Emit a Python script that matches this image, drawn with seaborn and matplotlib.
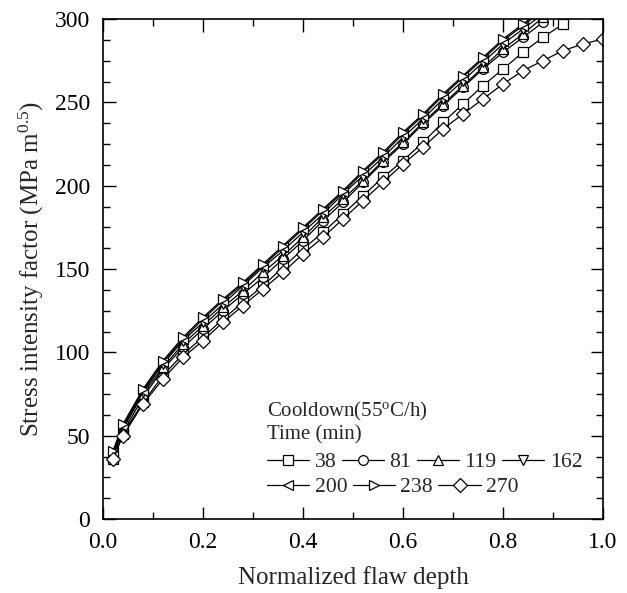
import numpy as np
import pandas as pd
import matplotlib
matplotlib.use("Agg")
import matplotlib.pyplot as plt
from matplotlib.ticker import MultipleLocator, AutoMinorLocator, FormatStrFormatter
import seaborn as sns

# ---- data ----
x_depth = [0.02, 0.04, 0.08, 0.12, 0.16, 0.20, 0.24, 0.28, 0.32, 0.36, 0.40,
           0.44, 0.48, 0.52, 0.56, 0.60, 0.64, 0.68, 0.72, 0.76, 0.80, 0.84,
           0.88, 0.92, 0.96, 1.00]
times = ["38", "81", "119", "162", "200", "238", "270"]
k38 = [36, 51, 70, 86, 99, 109, 120, 130, 140, 151, 162, 172, 183, 194, 205,
       215, 226, 238, 249, 260, 270, 280, 289, 297, 306]
k81 = [37, 52, 73, 90, 103, 114, 125, 135, 145, 156, 167, 179, 190, 202, 214,
       225, 237, 248, 259, 270, 280, 289, 298, 307]
k119 = [38, 54, 75, 91, 105, 116, 127, 137, 148, 158, 169, 181, 192, 203, 215,
        226, 238, 249, 260, 271, 282, 291, 301]
k162 = [39, 55, 76, 93, 107, 118, 129, 140, 151, 161, 172, 183, 195, 206, 217,
        229, 240, 252, 263, 274, 285, 294, 303]
k200 = [40, 56, 77, 94, 108, 120, 131, 141, 152, 163, 174, 185, 196, 208, 219,
        231, 242, 254, 265, 276, 287, 296, 305]
k238 = [41, 57, 78, 95, 109, 121, 132, 142, 153, 164, 175, 186, 197, 209, 220,
        232, 243, 255, 266, 277, 288, 297, 306]
k270 = [36, 50, 69, 84, 97, 107, 118, 128, 138, 148, 159, 169, 180, 191, 202,
        213, 223, 234, 243, 252, 261, 269, 275, 281, 285, 288]
series = [k38, k81, k119, k162, k200, k238, k270]
markers = ["s", "o", "^", "v", "<", ">", "D"]

rows = []
for t, ks in zip(times, series):
    for xv, kv in zip(x_depth, ks):
        rows.append({"x": xv, "K": kv, "Time": t})
df = pd.DataFrame(rows)

sns.set_style("ticks")
plt.rcParams["font.family"] = ["Liberation Serif", "DejaVu Serif"]
plt.rcParams["mathtext.fontset"] = "custom"
plt.rcParams["mathtext.rm"] = "Liberation Serif"
plt.rcParams["mathtext.it"] = "Liberation Serif:italic"

fig = plt.figure(figsize=(6.27, 5.93), dpi=100)
ax = fig.add_axes([103/627, 1-519/593, 500/627, 500/593])

sns.lineplot(data=df, x="x", y="K", hue="Time", style="Time",
             hue_order=times, style_order=times,
             palette=["black"]*len(times),
             markers=dict(zip(times, markers)), dashes=False,
             markerfacecolor="white", markeredgecolor="black",
             markeredgewidth=0.9, markersize=7, linewidth=0.9,
             legend=False, ax=ax, sort=False)

ax.set_xlim(0, 1.0)
ax.set_ylim(0, 300)
ax.xaxis.set_major_locator(MultipleLocator(0.2))
ax.xaxis.set_minor_locator(MultipleLocator(0.1))
ax.yaxis.set_major_locator(MultipleLocator(50))
ax.yaxis.set_minor_locator(AutoMinorLocator(4))
ax.tick_params(which="both", direction="in", top=True, right=True,
               width=1.0, labelsize=17, color="black", labelcolor="black")
ax.tick_params(which="major", length=9)
ax.tick_params(which="minor", length=5)
ax.tick_params(axis="x", which="major", pad=9)
ax.tick_params(axis="y", which="major", pad=9.5)
for s in ax.spines.values():
    s.set_linewidth(1.2)
    s.set_color("black")
ax.xaxis.set_major_formatter(FormatStrFormatter("%.1f"))

ax.set_xlabel("Normalized flaw depth", fontsize=18, labelpad=10)
ax.set_ylabel("Stress intensity factor (MPa m$^{0.5}$)", fontsize=18, labelpad=6)

ax.text(0.328, 0.216, "Cooldown(55$^{\\mathrm{o}}$C/h)", transform=ax.transAxes,
        fontsize=15, va="center", ha="left")
ax.text(0.328, 0.168, "Time (min)", transform=ax.transAxes,
        fontsize=15, va="center", ha="left")

lines = ax.get_lines()[:len(times)]
leg_kw = dict(loc="center left", frameon=False, fontsize=15.6, handlelength=1.95,
              handletextpad=0.25, columnspacing=0.25, borderpad=0,
              borderaxespad=0)
leg1 = ax.legend(lines[:4], times[:4], ncol=4,
                 bbox_to_anchor=(0.328, 0.114), **leg_kw)
ax.add_artist(leg1)
leg2 = ax.legend(lines[4:], times[4:], ncol=3,
                 bbox_to_anchor=(0.328, 0.064), **leg_kw)

fig.savefig("out.png", dpi=100)
